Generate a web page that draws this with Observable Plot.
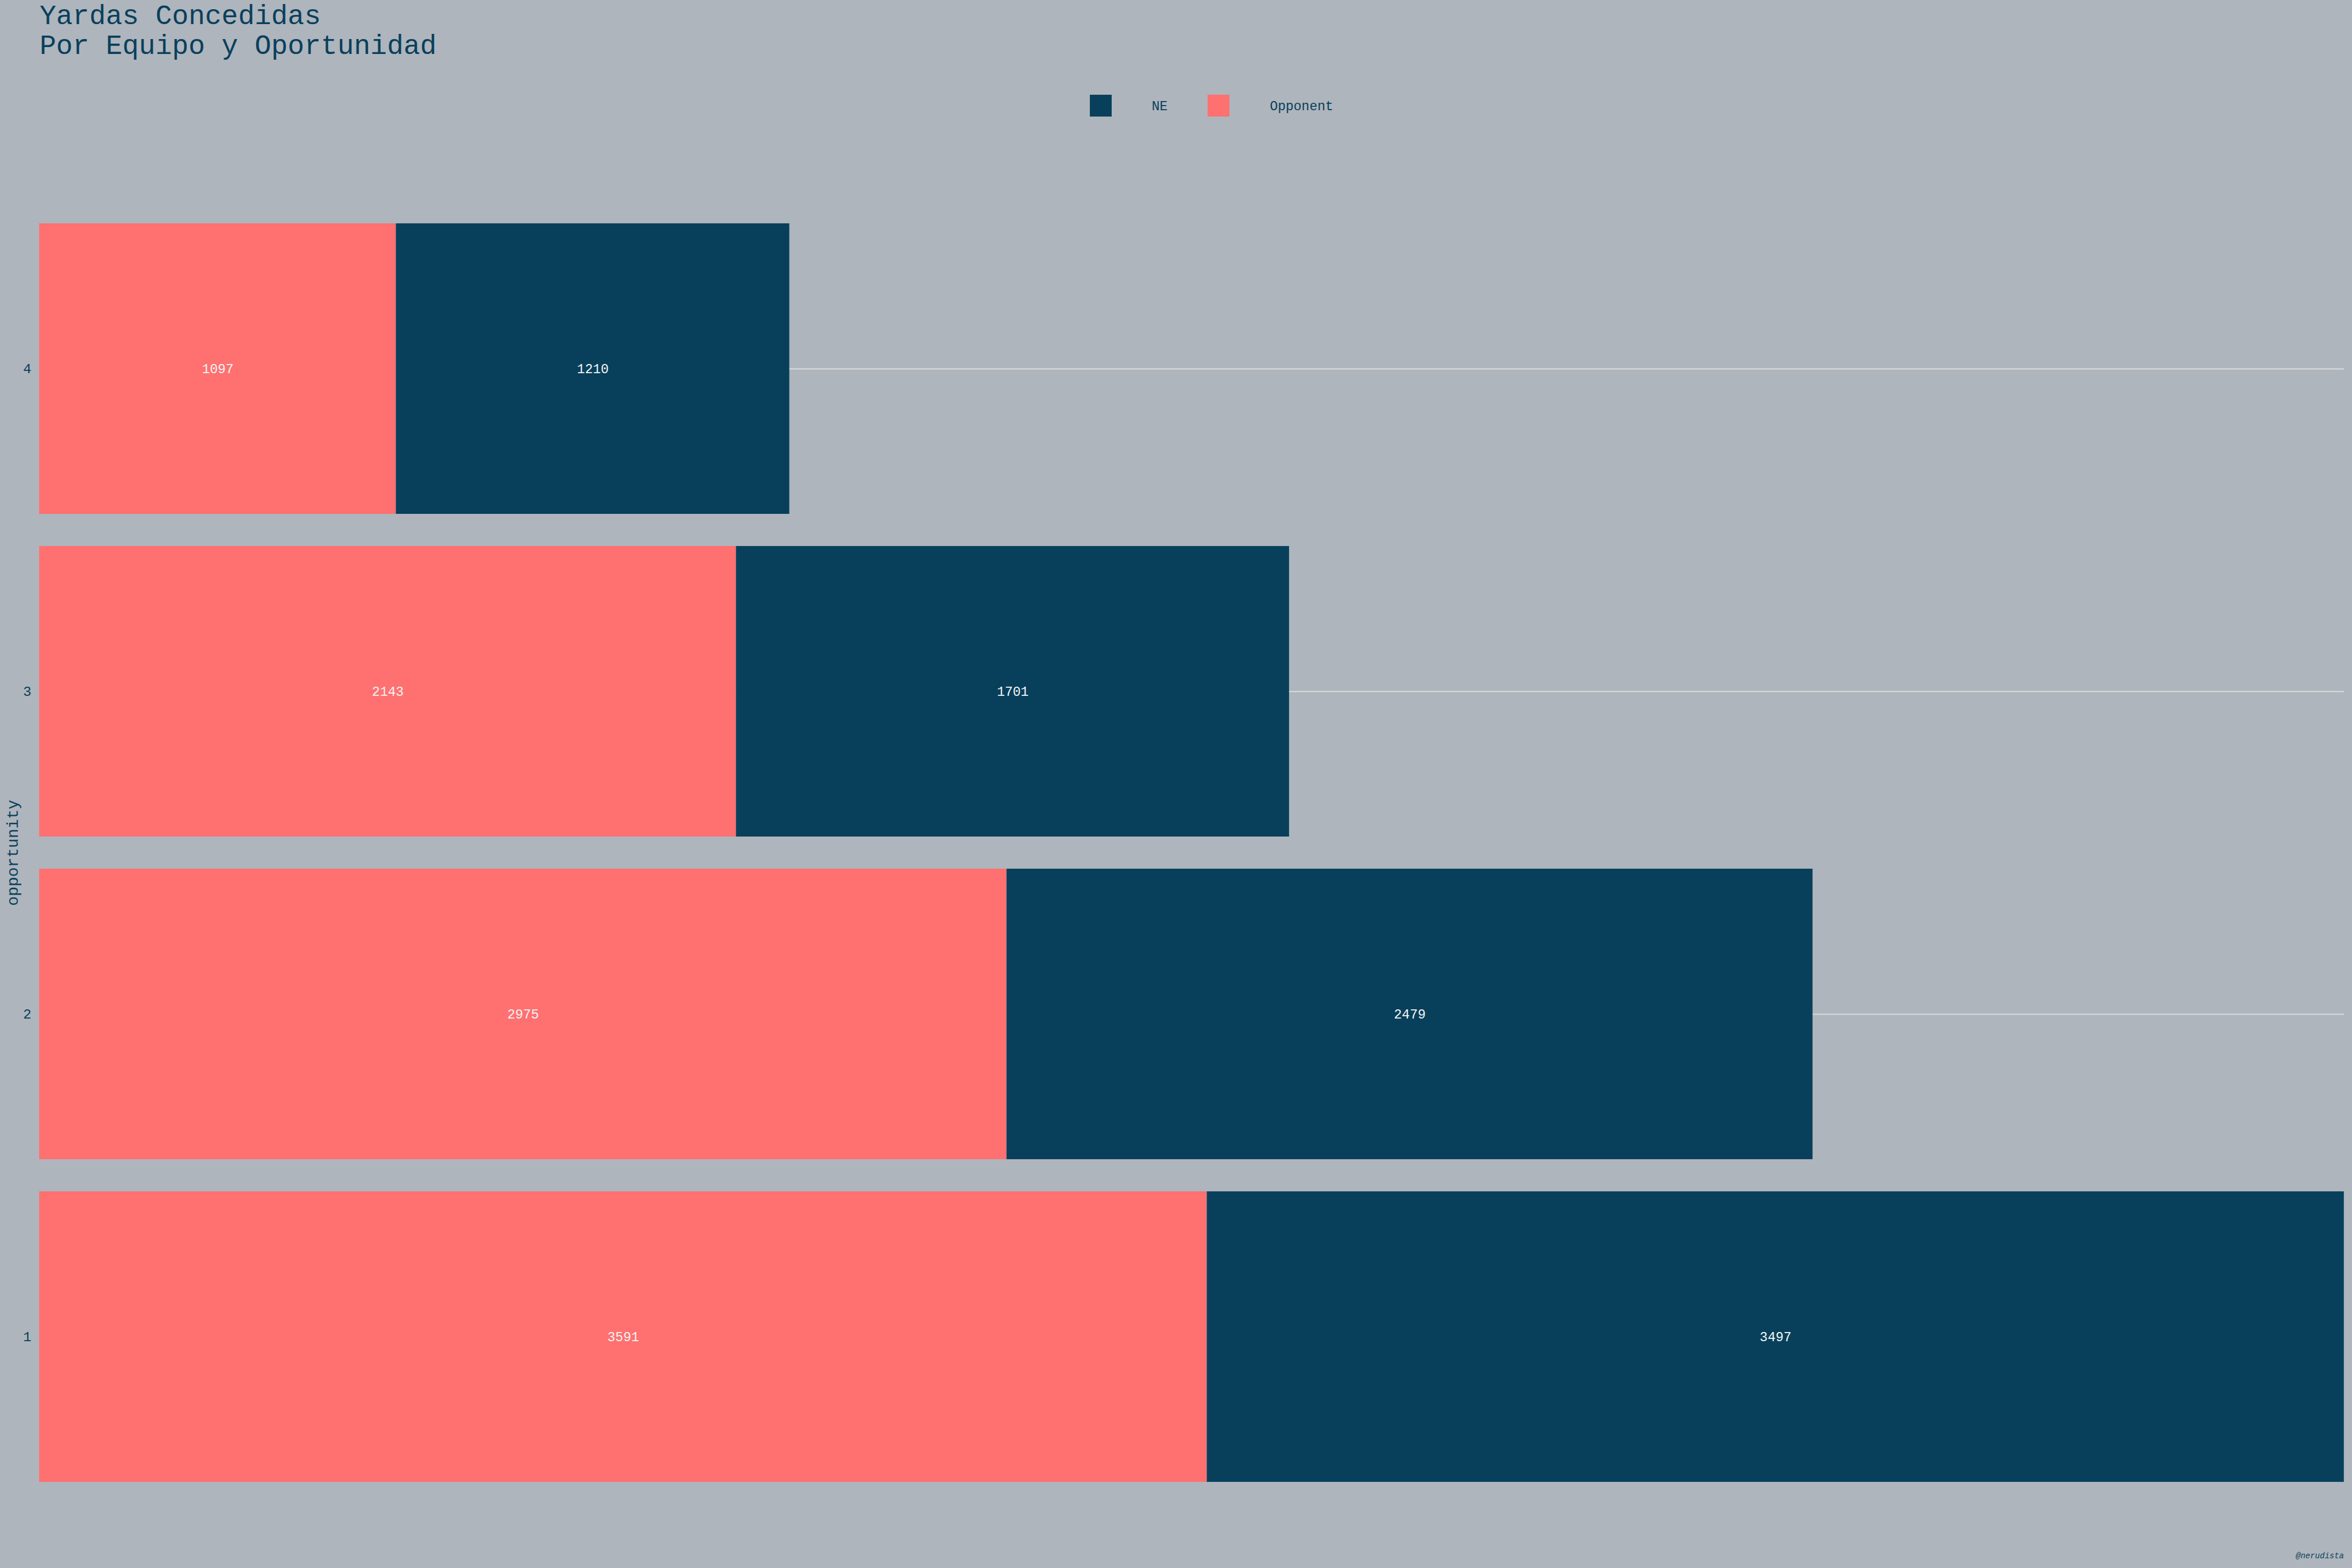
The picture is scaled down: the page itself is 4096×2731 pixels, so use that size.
<!DOCTYPE html>
<html><head><meta charset="utf-8">
<script src="https://cdn.jsdelivr.net/npm/d3@7"></script>
<script src="https://cdn.jsdelivr.net/npm/@observablehq/plot@0.6"></script>
<style>
html,body{margin:0;padding:0;background:#aeb5bc;}
#wrap{position:relative;width:4096px;height:2731px;overflow:hidden;background:#aeb5bc;font-family:"Liberation Mono","DejaVu Sans Mono",monospace;color:#0a3f5c;}
#title{position:absolute;left:69px;top:3.2px;font-size:48px;line-height:52px;white-space:pre;}
.sw{position:absolute;top:164.7px;width:38px;height:38px;}
.lg{position:absolute;top:173.8px;font-size:23px;line-height:24px;white-space:pre;}
#plot{position:absolute;left:0;top:260px;}
#caption{position:absolute;right:14px;top:2703px;font-size:14px;line-height:14px;font-style:italic;}
</style></head><body><div id="wrap"></div>
<script>
const titleLines = ["Yardas Concedidas", "Por Equipo y Oportunidad"];
const opportunities = ["1", "2", "3", "4"];
const yOrder = ["4", "3", "2", "1"];
const teams = ["Opponent", "NE"];
const teamColors = ["#ff7070", "#08405c"];
const opponentYards = [3591, 2975, 2143, 1097];
const neYards = [3497, 2479, 1701, 1210];
const legendTeams = ["NE", "Opponent"];
const yLabel = "opportunity";
const captionText = "@nerudista";
const textColor = "#0a3f5c";

const wrap = document.getElementById("wrap");

const title = document.createElement("div");
title.id = "title";
title.textContent = titleLines.join("\n");
wrap.appendChild(title);

// legend
const swX = [1897.6, 2103.3];
const lgX = [2005.7, 2211.4];
legendTeams.forEach((t, i) => {
  const s = document.createElement("div");
  s.className = "sw";
  s.style.left = swX[i] + "px";
  s.style.background = teamColors[teams.indexOf(t)];
  wrap.appendChild(s);
  const l = document.createElement("div");
  l.className = "lg";
  l.style.left = lgX[i] + "px";
  l.textContent = t;
  wrap.appendChild(l);
});

const data = [];
opportunities.forEach((o, i) => data.push({opp: o, team: "Opponent", yards: opponentYards[i]}));
opportunities.forEach((o, i) => data.push({opp: o, team: "NE", yards: neYards[i]}));

const xMax = d3.max(opportunities, (o, i) => opponentYards[i] + neYards[i]);

const plot = Plot.plot({
  width: 4096,
  height: 2471,
  marginTop: 127.8,
  marginBottom: 149.2,
  marginLeft: 68.2,
  marginRight: 14.2,
  style: {background: "transparent", fontFamily: "Liberation Mono, DejaVu Sans Mono, monospace", fontSize: "24px", color: textColor},
  x: {domain: [0, xMax], axis: null},
  y: {domain: yOrder, paddingInner: 0.1, paddingOuter: 0, label: null},
  color: {domain: teams, range: teamColors},
  marks: [
    Plot.gridY({stroke: "#dcdcdc", strokeOpacity: 1, strokeWidth: 1.9}),
    Plot.barX(data, Plot.stackX({x: "yards", y: "opp", fill: "team"})),
    Plot.textX(data, Plot.stackX({x: "yards", y: "opp", z: "team", text: d => String(d.yards), fill: "#f4f4f4", fontSize: 23})),
    Plot.axisY({tickSize: 0, tickPadding: 14, fontSize: 24, label: null}),
    Plot.text([yLabel], {frameAnchor: "left", textAnchor: "middle", dx: -47, rotate: -90, fontSize: 28, fill: textColor})
  ]
});
plot.id = "plot";
wrap.appendChild(plot);

const cap = document.createElement("div");
cap.id = "caption";
cap.textContent = captionText;
wrap.appendChild(cap);
</script>
</body></html>
